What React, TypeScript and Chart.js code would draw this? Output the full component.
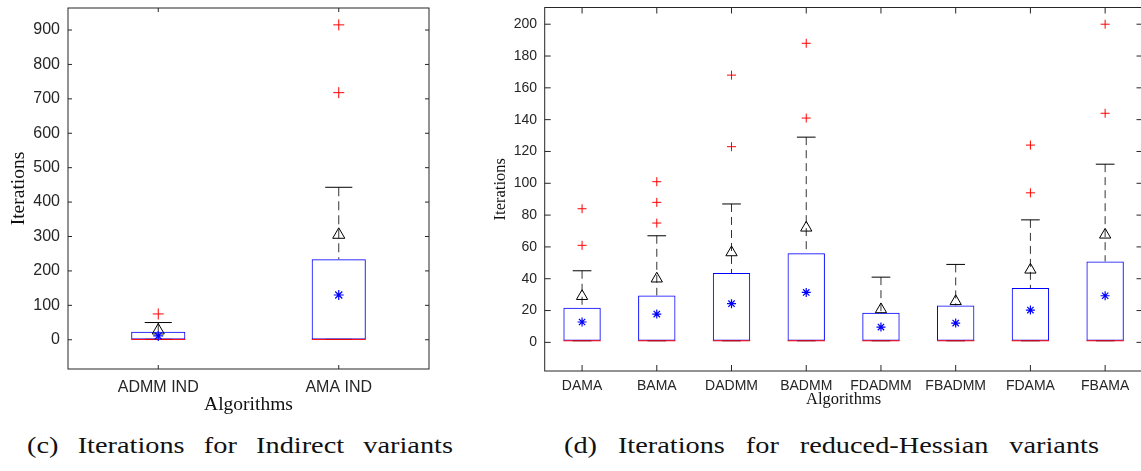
import React, { useEffect, useRef } from 'react';
import { Chart, registerables } from 'chart.js';

Chart.register(...registerables);

// ---------- Left panel (c): Indirect variants ----------
const leftCategories = ['ADMM IND', 'AMA IND'];
const leftLowerWhisker = [1, 1];
const leftQ1 = [1, 1];
const leftMedian = [1, 1];
const leftQ3 = [23, 234];
const leftUpperWhisker = [50, 443];
const leftTriangle = [27, 305];
const leftStar = [11, 130];
const leftOutliers = [[75], [915, 718]];
const leftYTicks = [0, 100, 200, 300, 400, 500, 600, 700, 800, 900];

// ---------- Right panel (d): reduced-Hessian variants ----------
const rightCategories = ['DAMA', 'BAMA', 'DADMM', 'BADMM', 'FDADMM', 'FBADMM', 'FDAMA', 'FBAMA'];
const rightLowerWhisker = [1, 1, 1, 1, 1, 1, 1, 1];
const rightQ1 = [1, 1, 1, 1, 1, 1, 1, 1];
const rightMedian = [1, 1, 1, 1, 1, 1, 1, 1];
const rightQ3 = [21.8, 29.5, 43.6, 56, 18.6, 23.2, 34.1, 50.9];
const rightUpperWhisker = [45, 67, 87, 129, 41, 49, 77, 112];
const rightTriangle = [29, 40, 56.5, 72, 20.7, 25.8, 45.6, 67.6];
const rightStar = [12.8, 17.8, 24.3, 31.4, 9.6, 12.1, 20.3, 29.3];
const rightOutliers = [[84, 61], [101, 88, 75], [168, 123], [188, 141], [], [], [124, 94], [200, 144]];
const rightYTicks = [0, 20, 40, 60, 80, 100, 120, 140, 160, 180, 200];

const captionLeft = '(c) Iterations for Indirect variants';
const captionRight = '(d) Iterations for reduced-Hessian variants';

const SANS = "'Liberation Sans', Arial, Helvetica, sans-serif";
const SERIF = "'Liberation Serif', 'Times New Roman', serif";
const AXIS_COLOR = '#262626';

type Cfg = {
  categories: string[];
  lower: number[];
  q1: number[];
  median: number[];
  q3: number[];
  upper: number[];
  triangle: number[];
  star: number[];
  outliers: number[][];
  yTicks: number[];
  yMin: number;
  yMax: number;
  left: number;
  width: number;
  height: number;
  padTop: number;
  padRight: number;
  yAxisWidth: number;
  xAxisHeight: number;
  tickFont: number;
  yTickPad: number;
  xTickPad: number;
  titleFont: number;
  xTitlePad: number;
  yTitlePad: number;
  boxWidth: number;
  capWidth: number;
  tickLen: number;
  triR: number;
  starR: number;
  crossR: number;
  dash: number[];
};

function makeDecorPlugin(cfg: Cfg) {
  return {
    id: 'boxDecor',
    beforeDatasetsDraw(chart: any) {
      const { ctx } = chart;
      const xs = chart.scales.x;
      const ys = chart.scales.y;
      const unit = xs.getPixelForValue(1) - xs.getPixelForValue(0);
      const capHalf = (unit * cfg.capWidth) / 2;
      ctx.save();
      cfg.categories.forEach((_c, i) => {
        const px = xs.getPixelForValue(i);
        ctx.lineWidth = 1;
        ctx.strokeStyle = 'rgba(0,0,0,0.8)';
        ctx.setLineDash(cfg.dash);
        ctx.beginPath();
        ctx.moveTo(px, ys.getPixelForValue(cfg.upper[i]));
        ctx.lineTo(px, ys.getPixelForValue(cfg.q3[i]));
        ctx.stroke();
        ctx.beginPath();
        ctx.moveTo(px, ys.getPixelForValue(cfg.lower[i]));
        ctx.lineTo(px, ys.getPixelForValue(cfg.q1[i]));
        ctx.stroke();
        ctx.setLineDash([]);
        ctx.strokeStyle = '#000';
        ctx.beginPath();
        [cfg.upper[i], cfg.lower[i]].forEach((v) => {
          const py = ys.getPixelForValue(v);
          ctx.moveTo(px - capHalf, py);
          ctx.lineTo(px + capHalf, py);
        });
        ctx.stroke();
      });
      ctx.restore();
    },
    afterDatasetDraw(chart: any, args: any) {
      if (args.index !== 0) return;
      const { ctx } = chart;
      const ys = chart.scales.y;
      const meta = chart.getDatasetMeta(0);
      ctx.save();
      ctx.strokeStyle = '#ff0000';
      ctx.lineWidth = 1;
      meta.data.forEach((bar: any, i: number) => {
        const py = ys.getPixelForValue(cfg.median[i]);
        ctx.beginPath();
        ctx.moveTo(bar.x - bar.width / 2, py);
        ctx.lineTo(bar.x + bar.width / 2, py);
        ctx.stroke();
      });
      ctx.restore();
    },
    afterDraw(chart: any) {
      const { ctx, chartArea } = chart;
      const { left, right, top, bottom } = chartArea;
      const xs = chart.scales.x;
      const ys = chart.scales.y;
      ctx.save();
      ctx.strokeStyle = AXIS_COLOR;
      ctx.lineWidth = 1;
      ctx.strokeRect(left, top, right - left, bottom - top);
      ctx.beginPath();
      cfg.yTicks.forEach((v) => {
        const py = ys.getPixelForValue(v);
        ctx.moveTo(left, py);
        ctx.lineTo(left + cfg.tickLen, py);
        ctx.moveTo(right, py);
        ctx.lineTo(right - cfg.tickLen, py);
      });
      cfg.categories.forEach((_c, i) => {
        const px = xs.getPixelForValue(i);
        ctx.moveTo(px, bottom);
        ctx.lineTo(px, bottom - cfg.tickLen);
        ctx.moveTo(px, top);
        ctx.lineTo(px, top + cfg.tickLen);
      });
      ctx.stroke();
      ctx.restore();
    },
  };
}

function zeroPads(s: any) {
  s.paddingTop = 0;
  s.paddingBottom = 0;
  s.paddingLeft = 0;
  s.paddingRight = 0;
}

function BoxChart({ cfg }: { cfg: Cfg }) {
  const ref = useRef<HTMLCanvasElement>(null);
  useEffect(() => {
    const canvas = ref.current;
    if (!canvas) return;
    const outlierPoints = cfg.outliers.flatMap((vals, i) =>
      vals.map((v) => ({ x: cfg.categories[i], y: v }))
    );
    const chart = new Chart(canvas, {
      type: 'bar',
      data: {
        labels: cfg.categories,
        datasets: [
          {
            type: 'bar',
            data: cfg.q1.map((v, i) => [v, cfg.q3[i]]) as any,
            backgroundColor: 'rgba(0,0,0,0)',
            borderColor: '#0000ff',
            borderWidth: 1,
            borderSkipped: false,
            barPercentage: cfg.boxWidth,
            categoryPercentage: 1,
            order: 10,
          } as any,
          {
            type: 'line',
            data: cfg.triangle,
            showLine: false,
            pointStyle: 'triangle',
            pointRadius: cfg.triR,
            pointBorderColor: '#000',
            pointBackgroundColor: 'rgba(0,0,0,0)',
            pointBorderWidth: 1,
            order: 3,
          } as any,
          {
            type: 'line',
            data: cfg.star,
            showLine: false,
            pointStyle: 'star',
            pointRadius: cfg.starR,
            pointBorderColor: '#0000ff',
            pointBackgroundColor: '#0000ff',
            pointBorderWidth: 1.2,
            order: 2,
          } as any,
          {
            type: 'line',
            data: outlierPoints as any,
            showLine: false,
            pointStyle: 'cross',
            pointRadius: cfg.crossR,
            pointBorderColor: '#ff0000',
            pointBackgroundColor: '#ff0000',
            pointBorderWidth: 1,
            order: 1,
          } as any,
        ],
      },
      options: {
        animation: false,
        responsive: false,
        events: [],
        layout: { padding: { left: 0, top: cfg.padTop, right: cfg.padRight, bottom: 0 } },
        plugins: { legend: { display: false }, tooltip: { enabled: false } },
        scales: {
          x: {
            type: 'category',
            offset: true,
            afterFit: (s: any) => {
              s.height = cfg.xAxisHeight;
              zeroPads(s);
            },
            grid: { display: false, drawTicks: false },
            border: { display: false },
            ticks: {
              padding: cfg.xTickPad,
              autoSkip: false,
              maxRotation: 0,
              color: AXIS_COLOR,
              font: { family: SANS, size: cfg.tickFont },
            },
            title: {
              display: true,
              text: 'Algorithms',
              color: '#111',
              font: { family: SERIF, size: cfg.titleFont },
              padding: { top: 0, bottom: cfg.xTitlePad },
            },
          },
          y: {
            type: 'linear',
            min: cfg.yMin,
            max: cfg.yMax,
            afterBuildTicks: (s: any) => {
              s.ticks = cfg.yTicks.map((v) => ({ value: v }));
            },
            afterFit: (s: any) => {
              s.width = cfg.yAxisWidth;
              zeroPads(s);
            },
            grid: { display: false, drawTicks: false },
            border: { display: false },
            ticks: {
              padding: cfg.yTickPad,
              color: AXIS_COLOR,
              font: { family: SANS, size: cfg.tickFont },
              callback: (v: any) => String(v),
            },
            title: {
              display: true,
              text: 'Iterations',
              color: '#111',
              font: { family: SERIF, size: cfg.titleFont },
              padding: { top: cfg.yTitlePad, bottom: 0 },
            },
          },
        },
      },
      plugins: [makeDecorPlugin(cfg)],
    } as any);
    return () => chart.destroy();
  }, [cfg]);
  return (
    <canvas
      ref={ref}
      width={cfg.width}
      height={cfg.height}
      style={{ position: 'absolute', left: cfg.left, top: 0, width: cfg.width, height: cfg.height }}
    />
  );
}

const leftCfg: Cfg = {
  categories: leftCategories,
  lower: leftLowerWhisker,
  q1: leftQ1,
  median: leftMedian,
  q3: leftQ3,
  upper: leftUpperWhisker,
  triangle: leftTriangle,
  star: leftStar,
  outliers: leftOutliers,
  yTicks: leftYTicks,
  yMin: -85,
  yMax: 964,
  left: 0,
  width: 440,
  height: 425,
  padTop: 7,
  padRight: 11,
  yAxisWidth: 68,
  xAxisHeight: 56,
  tickFont: 16,
  yTickPad: 8,
  xTickPad: 8.6,
  titleFont: 19.5,
  xTitlePad: 8.6,
  yTitlePad: 6.9,
  boxWidth: 0.3,
  capWidth: 0.15,
  tickLen: 4,
  triR: 7,
  starR: 5,
  crossR: 5.5,
  dash: [9, 5],
};

const rightCfg: Cfg = {
  categories: rightCategories,
  lower: rightLowerWhisker,
  q1: rightQ1,
  median: rightMedian,
  q3: rightQ3,
  upper: rightUpperWhisker,
  triangle: rightTriangle,
  star: rightStar,
  outliers: rightOutliers,
  yTicks: rightYTicks,
  yMin: -18,
  yMax: 210.5,
  left: 490,
  width: 660,
  height: 425,
  padTop: 7,
  padRight: 5.5,
  yAxisWidth: 54.7,
  xAxisHeight: 54,
  tickFont: 14,
  yTickPad: 7.7,
  xTickPad: 6.4,
  titleFont: 16.5,
  xTitlePad: 15.8,
  yTitlePad: 0.9,
  boxWidth: 0.5,
  capWidth: 0.25,
  tickLen: 6,
  triR: 6.5,
  starR: 4.5,
  crossR: 4.5,
  dash: [8, 5],
};

const CAPTION_SCALE = 1.18;

function captionStyle(left: number, width: number): React.CSSProperties {
  return {
    position: 'absolute',
    left,
    top: 434,
    width: width / CAPTION_SCALE,
    transform: `scaleX(${CAPTION_SCALE})`,
    transformOrigin: '0 0',
    fontFamily: SERIF,
    fontSize: 24,
    lineHeight: '22px',
    color: '#111',
    whiteSpace: 'nowrap',
    textAlign: 'justify',
    textAlignLast: 'justify',
  };
}

export default function App() {
  return (
    <div
      style={{
        position: 'fixed',
        left: 0,
        top: 0,
        width: 1141,
        height: 471,
        overflow: 'hidden',
        background: '#fff',
      }}
    >
      <BoxChart cfg={leftCfg} />
      <BoxChart cfg={rightCfg} />
      <div style={captionStyle(27, 426)}>{captionLeft}</div>
      <div style={captionStyle(564, 535)}>{captionRight}</div>
    </div>
  );
}
